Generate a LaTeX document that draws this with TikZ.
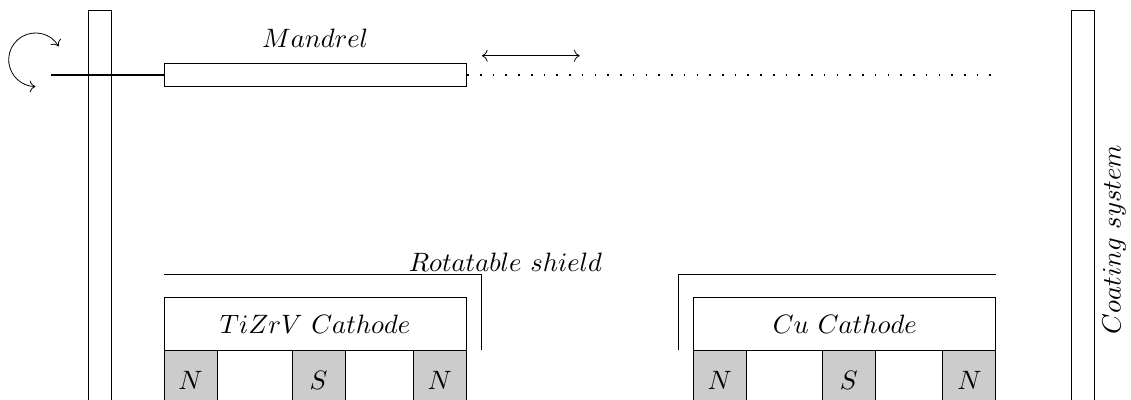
\documentclass[tikz,border=0pt]{standalone}
\usepackage{amsmath}
\usetikzlibrary{arrows.meta}

\tikzset{
  every node/.style={scale=1.33},
  magnet/.style={draw,fill=black!20},
  shaft/.style={line width=0.8pt},
  travel/.style={line width=0.8pt,dash pattern=on 0.8pt off 5.57pt},
  motion/.style={{Computer Modern Rightarrow[scale=1.15]}-{Computer Modern Rightarrow[scale=1.15]}}
}

\begin{document}
\begin{tikzpicture}
\clip (0,0) rectangle (19.88,7.03);

% chamber walls
\draw (1.555,-0.3) -- (1.555,6.84) -- (1.956,6.84) -- (1.956,-0.3);
\draw (18.84,-0.3) -- (18.84,6.84) -- (19.24,6.84) -- (19.24,-0.3);
\node (coating) at (19.585,2.82) [rotate=90] {$Coating\ system$};

% mandrel
\draw (2.89,5.51) -- (2.89,5.91) -- (8.19,5.91) -- (8.19,5.51) -- cycle;
\node (mandrel) at (5.54,6.36) {$Mandrel$};
\draw[shaft] (0.90,5.71) -- (2.89,5.71);
\draw[motion] (1.03,6.215) arc (30:270:0.47);
\draw[motion] (8.47,6.05) -- (10.19,6.05);
\draw[travel] (8.213,5.713) -- (17.43,5.713);

% shields
\node (shield) at (8.885,2.425) {$Rotatable\ shield$};
\draw (2.89,2.20) -- (8.47,2.20) -- (8.47,0.87);
\draw (11.92,0.87) -- (11.92,2.20) -- (17.50,2.20);

% TiZrV cathode
\draw (2.89,0.87) -- (2.89,1.80) -- (8.19,1.80) -- (8.19,0.87) -- cycle;
\node (tizrv) at (5.54,1.335) {$TiZrV\ Cathode$};
\draw[magnet] (2.89,-0.3) -- (2.89,0.87) -- (3.82,0.87) -- (3.82,-0.3) -- cycle;
\node (n1) at (3.35,0.35) {$N$};
\draw[magnet] (5.14,-0.3) -- (5.14,0.87) -- (6.07,0.87) -- (6.07,-0.3) -- cycle;
\node (s1) at (5.60,0.35) {$S$};
\draw[magnet] (7.27,-0.3) -- (7.27,0.87) -- (8.19,0.87) -- (8.19,-0.3) -- cycle;
\node (n2) at (7.73,0.35) {$N$};

% Cu cathode
\draw (12.18,0.87) -- (12.18,1.80) -- (17.50,1.80) -- (17.50,0.87) -- cycle;
\node (cu) at (14.85,1.335) {$Cu\ Cathode$};
\draw[magnet] (12.18,-0.3) -- (12.18,0.87) -- (13.12,0.87) -- (13.12,-0.3) -- cycle;
\node (n3) at (12.65,0.35) {$N$};
\draw[magnet] (14.45,-0.3) -- (14.45,0.87) -- (15.38,0.87) -- (15.38,-0.3) -- cycle;
\node (s2) at (14.92,0.35) {$S$};
\draw[magnet] (16.57,-0.3) -- (16.57,0.87) -- (17.50,0.87) -- (17.50,-0.3) -- cycle;
\node (n4) at (17.04,0.35) {$N$};
\end{tikzpicture}
\end{document}
